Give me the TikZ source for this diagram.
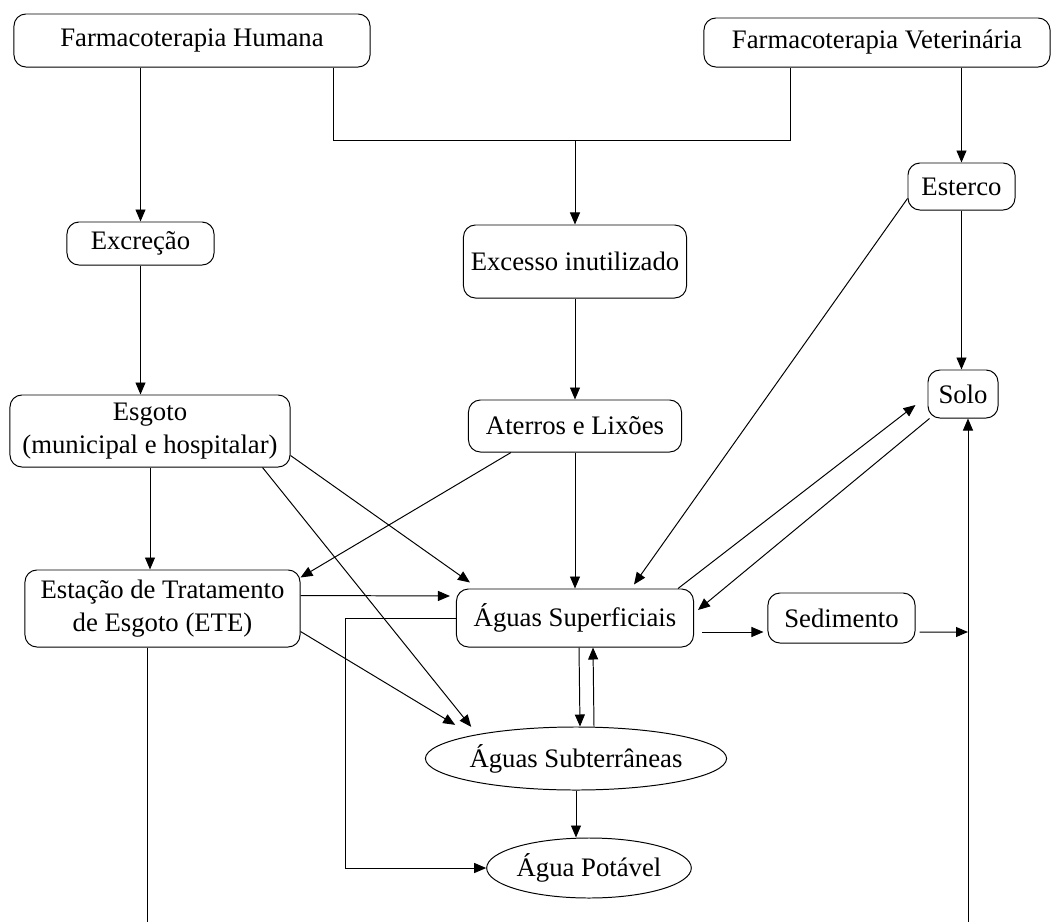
\documentclass[tikz,border=0pt]{standalone}
\usepackage{fontspec}
\setmainfont{Liberation Serif}
\usetikzlibrary{shapes.geometric,arrows.meta}
\tikzstyle{box}=[draw, rounded corners=0.3cm, inner sep=1pt, align=center, line width=0.7pt]
\tikzstyle{oval}=[draw, ellipse, inner sep=0pt, line width=0.7pt]
\tikzset{flow/.style={-{Triangle[length=0.3cm,width=0.25cm]}, line width=0.7pt}}
\tikzset{plain/.style={line width=0.7pt}}

\begin{document}
\begin{tikzpicture}[x=0.025cm,y=-0.025cm,font=\fontsize{19}{24}\selectfont]
  \useasboundingbox (0,0) rectangle (1061,922);

  \draw (192,40.5) node[box,minimum width=8.9cm,minimum height=1.325cm] (FH) {Farmacoterapia Humana};
  \draw (877,42.5) node[box,minimum width=8.65cm,minimum height=1.225cm] (FV) {Farmacoterapia Veterinária};

  \draw (140.5,243.5) node[box,minimum width=3.675cm,minimum height=1.075cm] (EXC) {Excreção};
  \draw (575,261.5) node[box,minimum width=5.575cm,minimum height=1.825cm] (EXI) {Excesso inutilizado};
  \draw (961.5,186.5) node[box,minimum width=2.675cm,minimum height=1.175cm] (EST) {Esterco};

  \draw (150,431) node[box,minimum width=7cm,minimum height=1.8cm] (ESG) {Esgoto\\(municipal e hospitalar)};
  \draw (575,426) node[box,minimum width=5.325cm,minimum height=1.3cm] (ATR) {Aterros e Lixões};
  \draw (963,394) node[box,minimum width=1.75cm,minimum height=1.2cm] (SOLO) {Solo};

  \draw (162.5,608.5) node[box,minimum width=6.875cm,minimum height=1.925cm] (ETE) {Estação de Tratamento\\de Esgoto (ETE)};
  \draw (575,618) node[box,minimum width=5.925cm,minimum height=1.45cm] (AGS) {Águas Superficiais};
  \draw (841.5,618) node[box,minimum width=3.675cm,minimum height=1.25cm] (SED) {Sedimento};

  \draw (576,758.5) node[oval,minimum width=6.55cm,minimum height=1.575cm] (AGB) {Águas Subterrâneas};
  \draw (589,868) node[oval,minimum width=4.7cm,minimum height=1.5cm] (AGP) {Água Potável};

  %% Bend and end points
  \coordinate (JL) at (333,140);
  \coordinate (JR) at (790,140);
  \coordinate (LP) at (345,0);
  \coordinate (LB) at (147,922);
  \coordinate (RB) at (968,922);
  \coordinate (RS) at (968,632);

  %% Top
  \draw[flow] (EXC.north |- FH.south) -- (EXC.north);
  \draw[plain] (JL |- FH.south) -- (JL) -- (JR) -- (JR |- FV.south);
  \draw[flow] (EXI.north |- JL) -- (EXI.north);
  \draw[flow] (EST.north |- FV.south) -- (EST.north);

  \draw[flow] (EXC.south) -- (EXC.south |- ESG.north);
  \draw[flow] (EXI.south) -- (ATR.north);
  \draw[flow] (EST.south) -- (EST.south |- SOLO.north);

  %% Middle
  \draw[flow] (ESG.south) -- (ESG.south |- ETE.north);
  \draw[flow] ([xshift=1.075cm]ATR.south west) -- ([yshift=-0.2cm]ETE.north east);
  \draw[flow] ([yshift=0.3cm]ESG.south east) -- ([xshift=0.35cm,yshift=0.15cm]AGS.north west);
  \draw[flow] ([xshift=-0.7cm]ESG.south east) -- ([xshift=0.05cm,yshift=0.225cm]AGB.north west);
  \draw[flow] (ATR.south) -- (AGS.north);
  \draw[flow] ([yshift=0.3cm]EST.south west) -- ([xshift=-1.5cm,yshift=0.1cm]AGS.north east);
  \draw[flow] ([xshift=-0.4cm]AGS.north east) -- ([xshift=-0.3cm,yshift=-0.275cm]SOLO.west);
  \draw[flow] ([xshift=0.05cm]SOLO.south west) -- ([xshift=0.1cm,yshift=0.2cm]AGS.east);

  \draw[flow] ([yshift=-0.65cm]ETE.north east) -- ([xshift=-0.15cm,yshift=0.55cm]AGS.west);
  \draw[flow] ([yshift=0.4cm]ETE.south east) -- ([xshift=-0.35cm,yshift=0.275cm]AGB.north west);
  \draw[flow,shorten <=0.2cm,shorten >=0.1cm] ([yshift=-0.35cm]AGS.east) -- ([yshift=-0.35cm]SED.west);
  \draw[flow,shorten <=0.1cm] ([yshift=-0.35cm]SED.east) -- (RS);

  %% Bottom
  \draw[flow] ([xshift=0.1cm]AGS.south) -- ([xshift=0.1cm]AGB.north);
  \draw[flow] ([xshift=0.45cm]AGB.north) -- ([xshift=0.45cm]AGS.south);
  \draw[flow] (AGB.south) -- (AGB.south |- AGP.north);
  \draw[flow] (AGS.west) -- (AGS.west -| LP) |- (AGP.west);
  \draw[plain] (ETE.south -| LB) -- (LB);
  \draw[flow] (RB) -- (RB |- SOLO.south);
\end{tikzpicture}
\end{document}
